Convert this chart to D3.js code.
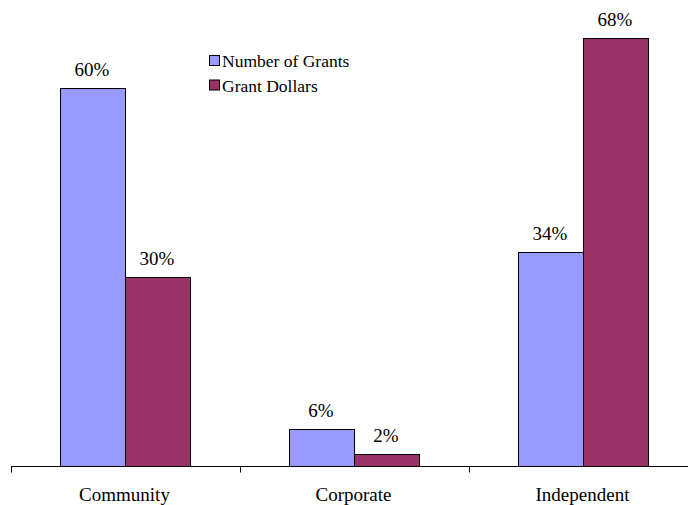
<!DOCTYPE html>
<html><head><meta charset="utf-8">
<script src="https://cdn.jsdelivr.net/npm/d3@7"></script>
<style>body{margin:0;background:#fff}svg{display:block}
svg text{font-family:"Liberation Serif","DejaVu Serif",serif}</style>
</head><body>
<svg id="c" width="688" height="505"></svg>
<script>
const categories = ["Community", "Corporate", "Independent"];
const seriesNames = ["Number of Grants", "Grant Dollars"];
const numberOfGrants = [60, 6, 34];
const grantDollars = [30, 2, 68];
const colors = ["#9999FF", "#993366"];

const svg = d3.select("#c");
const baseY = 466.5;
const x = d3.scaleBand().domain(categories).range([11, 698]);
const y = d3.scaleLinear().domain([0, 74]).range([baseY, 0]);
const sub = d3.scaleBand().domain(seriesNames).range([0, 130]);
const data = categories.map((c, i) => ({c, vals: [numberOfGrants[i], grantDollars[i]]}));

const g = svg.append("g");
data.forEach(d => {
  const x0 = x(d.c) + (x.bandwidth() - 130) / 2 - 1;
  d.vals.forEach((v, j) => {
    const bx = x0 + sub(seriesNames[j]);
    g.append("rect")
      .attr("x", Math.round(bx) + 0.5).attr("y", Math.round(y(v)) + 0.5)
      .attr("width", sub.bandwidth()).attr("height", baseY - Math.round(y(v)) - 0.5)
      .attr("fill", colors[j]).attr("stroke", "#000").attr("stroke-width", 1);
    g.append("text")
      .attr("x", bx + sub.bandwidth() / 2).attr("y", y(v) - 12)
      .attr("text-anchor", "middle").attr("font-size", 19)
      .text(v + "%");
  });
});

// axis
const ax = svg.append("g");
ax.append("line").attr("x1", 11).attr("x2", 698).attr("y1", baseY).attr("y2", baseY).attr("stroke", "#000");
const tickXs = categories.map(c => x(c)).concat([x.range()[1]]);
tickXs.forEach(t => {
  ax.append("line").attr("x1", Math.round(t) + 0.5).attr("x2", Math.round(t) + 0.5)
    .attr("y1", baseY).attr("y2", baseY + 6).attr("stroke", "#000");
});
categories.forEach(c => {
  ax.append("text").attr("x", x(c) + x.bandwidth() / 2 - 1).attr("y", 501)
    .attr("text-anchor", "middle").attr("font-size", 19).text(c);
});

// legend
const lg = svg.append("g");
seriesNames.forEach((s, i) => {
  lg.append("rect").attr("x", 209.5).attr("y", 55.5 + i * 24.5).attr("width", 10).attr("height", 10)
    .attr("fill", colors[i]).attr("stroke", "#000");
  lg.append("text").attr("x", 222).attr("y", 67 + i * 24.5)
    .attr("font-size", 17.5).text(s);
});
</script>
</body></html>
